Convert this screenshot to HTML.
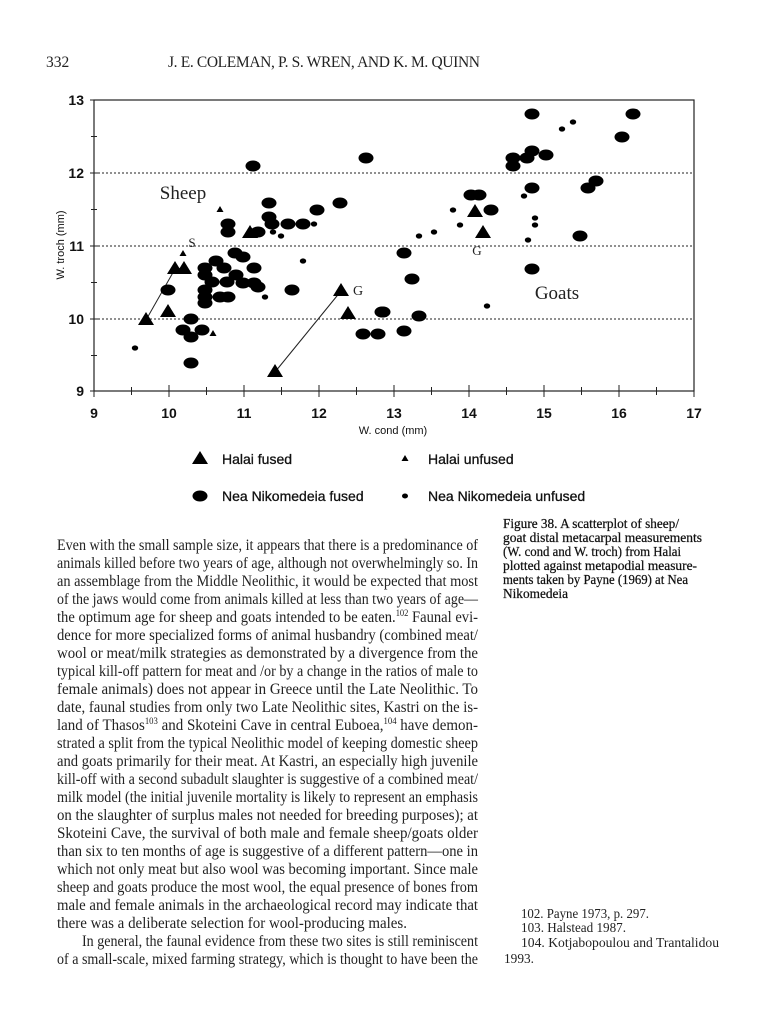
<!DOCTYPE html>
<html><head><meta charset="utf-8"><style>
html,body{margin:0;padding:0;background:#fff;}
svg{display:block}
.b{font-family:"Liberation Serif",serif;font-size:15.5px;fill:#222}
.c{font-family:"Liberation Serif",serif;font-size:14px;fill:#111;stroke:#111;stroke-width:0.25}
.f{font-family:"Liberation Serif",serif;font-size:14px;fill:#222}
.a{font-family:"Liberation Sans",sans-serif;font-weight:bold;fill:#111}
</style></head><body>
<svg width="760" height="1024" viewBox="0 0 760 1024" xmlns="http://www.w3.org/2000/svg">
<rect width="760" height="1024" fill="#fff"/>
<!-- header -->
<text x="46" y="67" class="b" font-size="13">332</text>
<text x="168" y="67" class="b" font-size="12.5" textLength="312" lengthAdjust="spacing">J. E. COLEMAN, P. S. WREN, AND K. M. QUINN</text>

<!-- chart frame -->
<g stroke="#222" fill="none">
<rect x="94" y="100" width="600" height="291" stroke-width="1.2"/>
<g stroke-dasharray="2,2" stroke-width="1">
<line x1="94" y1="173" x2="694" y2="173"/>
<line x1="94" y1="246" x2="694" y2="246"/>
<line x1="94" y1="319" x2="694" y2="319"/>
</g>
<g stroke-width="1">
<!-- y ticks -->
<line x1="90" y1="100" x2="98" y2="100"/><line x1="91" y1="136.5" x2="97" y2="136.5"/>
<line x1="90" y1="173" x2="98" y2="173"/><line x1="91" y1="209.5" x2="97" y2="209.5"/>
<line x1="90" y1="246" x2="98" y2="246"/><line x1="91" y1="282.5" x2="97" y2="282.5"/>
<line x1="90" y1="319" x2="98" y2="319"/><line x1="91" y1="355.5" x2="97" y2="355.5"/>
<line x1="90" y1="391" x2="98" y2="391"/>
<!-- x ticks -->
<line x1="94" y1="385" x2="94" y2="397"/><line x1="131.5" y1="387" x2="131.5" y2="395"/>
<line x1="169" y1="385" x2="169" y2="397"/><line x1="206.5" y1="387" x2="206.5" y2="395"/>
<line x1="244" y1="385" x2="244" y2="397"/><line x1="281.5" y1="387" x2="281.5" y2="395"/>
<line x1="319" y1="385" x2="319" y2="397"/><line x1="356.5" y1="387" x2="356.5" y2="395"/>
<line x1="394" y1="385" x2="394" y2="397"/><line x1="431.5" y1="387" x2="431.5" y2="395"/>
<line x1="469" y1="385" x2="469" y2="397"/><line x1="506.5" y1="387" x2="506.5" y2="395"/>
<line x1="544" y1="385" x2="544" y2="397"/><line x1="581.5" y1="387" x2="581.5" y2="395"/>
<line x1="619" y1="385" x2="619" y2="397"/><line x1="656.5" y1="387" x2="656.5" y2="395"/>
<line x1="694" y1="385" x2="694" y2="397"/>
</g>
<!-- connector lines -->
<line x1="146" y1="320" x2="175" y2="269" stroke-width="1"/>
<line x1="275" y1="372" x2="341" y2="291" stroke-width="1"/>
</g>
<!-- axis labels -->
<g class="a" font-size="14" text-anchor="end">
<text x="84" y="105">13</text><text x="84" y="178">12</text><text x="84" y="251">11</text>
<text x="84" y="324">10</text><text x="84" y="396">9</text>
</g>
<g class="a" font-size="14" text-anchor="middle">
<text x="94" y="418">9</text><text x="169" y="418">10</text><text x="244" y="418">11</text>
<text x="319" y="418">12</text><text x="394" y="418">13</text><text x="469" y="418">14</text>
<text x="544" y="418">15</text><text x="619" y="418">16</text><text x="694" y="418">17</text>
</g>
<text x="393" y="434" class="a" font-size="11" font-weight="normal" text-anchor="middle" style="font-weight:normal">W. cond (mm)</text>
<text transform="translate(64,245) rotate(-90)" class="a" font-size="11" text-anchor="middle" style="font-weight:normal">W. troch (mm)</text>

<!-- in-chart labels -->
<g class="b" fill="#111">
<text x="183" y="199" font-size="19" text-anchor="middle">Sheep</text>
<text x="192" y="247" font-size="13" text-anchor="middle">S</text>
<text x="358" y="295" font-size="14" text-anchor="middle">G</text>
<text x="477" y="255" font-size="13" text-anchor="middle">G</text>
<text x="557" y="299" font-size="19" text-anchor="middle">Goats</text>
</g>

<!-- big dots -->
<g fill="#000">
<ellipse cx="253" cy="166" rx="7.5" ry="5.5"/><ellipse cx="366" cy="158" rx="7.5" ry="5.5"/>
<ellipse cx="269" cy="203" rx="7.5" ry="5.5"/><ellipse cx="340" cy="203" rx="7.5" ry="5.5"/>
<ellipse cx="317" cy="210" rx="7.5" ry="5.5"/><ellipse cx="269" cy="217" rx="7.5" ry="5.5"/>
<ellipse cx="272" cy="224" rx="7.5" ry="5.5"/><ellipse cx="288" cy="224" rx="7.5" ry="5.5"/>
<ellipse cx="303" cy="224" rx="7.5" ry="5.5"/><ellipse cx="228" cy="224" rx="7.5" ry="5.5"/>
<ellipse cx="228" cy="232" rx="7.5" ry="5.5"/><ellipse cx="258" cy="232" rx="7.5" ry="5.5"/>
<ellipse cx="216" cy="261" rx="7.5" ry="5.5"/><ellipse cx="235" cy="253" rx="7.5" ry="5.5"/>
<ellipse cx="243" cy="257" rx="7.5" ry="5.5"/><ellipse cx="224" cy="268" rx="7.5" ry="5.5"/>
<ellipse cx="254" cy="268" rx="7.5" ry="5.5"/><ellipse cx="205" cy="268" rx="7.5" ry="5.5"/>
<ellipse cx="205" cy="275" rx="7.5" ry="5.5"/><ellipse cx="212" cy="282" rx="7.5" ry="5.5"/>
<ellipse cx="227" cy="282" rx="7.5" ry="5.5"/><ellipse cx="236" cy="275" rx="7.5" ry="5.5"/>
<ellipse cx="243" cy="283" rx="7.5" ry="5.5"/><ellipse cx="254" cy="283" rx="7.5" ry="5.5"/>
<ellipse cx="258" cy="287" rx="7.5" ry="5.5"/><ellipse cx="205" cy="290" rx="7.5" ry="5.5"/>
<ellipse cx="205" cy="297" rx="7.5" ry="5.5"/><ellipse cx="205" cy="303" rx="7.5" ry="5.5"/>
<ellipse cx="220" cy="297" rx="7.5" ry="5.5"/><ellipse cx="228" cy="297" rx="7.5" ry="5.5"/>
<ellipse cx="292" cy="290" rx="7.5" ry="5.5"/><ellipse cx="168" cy="290" rx="7.5" ry="5.5"/>
<ellipse cx="191" cy="319" rx="7.5" ry="5.5"/><ellipse cx="183" cy="330" rx="7.5" ry="5.5"/>
<ellipse cx="202" cy="330" rx="7.5" ry="5.5"/><ellipse cx="191" cy="337" rx="7.5" ry="5.5"/>
<ellipse cx="191" cy="363" rx="7.5" ry="5.5"/><ellipse cx="382" cy="312" rx="7.5" ry="5.5"/>
<ellipse cx="363" cy="334" rx="7.5" ry="5.5"/><ellipse cx="378" cy="334" rx="7.5" ry="5.5"/>
<ellipse cx="404" cy="253" rx="7.5" ry="5.5"/><ellipse cx="404" cy="331" rx="7.5" ry="5.5"/>
<ellipse cx="532" cy="114" rx="7.5" ry="5.5"/><ellipse cx="633" cy="114" rx="7.5" ry="5.5"/>
<ellipse cx="622" cy="137" rx="7.5" ry="5.5"/><ellipse cx="532" cy="151" rx="7.5" ry="5.5"/>
<ellipse cx="527" cy="158" rx="7.5" ry="5.5"/><ellipse cx="513" cy="158" rx="7.5" ry="5.5"/>
<ellipse cx="513" cy="166" rx="7.5" ry="5.5"/><ellipse cx="546" cy="155" rx="7.5" ry="5.5"/>
<ellipse cx="532" cy="188" rx="7.5" ry="5.5"/><ellipse cx="588" cy="188" rx="7.5" ry="5.5"/>
<ellipse cx="596" cy="181" rx="7.5" ry="5.5"/><ellipse cx="471" cy="195" rx="7.5" ry="5.5"/>
<ellipse cx="479" cy="195" rx="7.5" ry="5.5"/><ellipse cx="491" cy="210" rx="7.5" ry="5.5"/>
<ellipse cx="580" cy="236" rx="7.5" ry="5.5"/><ellipse cx="412" cy="279" rx="7.5" ry="5.5"/>
<ellipse cx="383" cy="312" rx="7.5" ry="5.5"/><ellipse cx="419" cy="316" rx="7.5" ry="5.5"/>
<ellipse cx="532" cy="269" rx="7.5" ry="5.5"/>
</g>
<!-- small dots -->
<g fill="#000">
<ellipse cx="135" cy="348" rx="3.2" ry="2.6"/><ellipse cx="265" cy="297" rx="3.2" ry="2.6"/>
<ellipse cx="303" cy="261" rx="3.2" ry="2.6"/><ellipse cx="273" cy="232" rx="3.2" ry="2.6"/>
<ellipse cx="281" cy="236" rx="3.2" ry="2.6"/><ellipse cx="314" cy="224" rx="3.2" ry="2.6"/>
<ellipse cx="562" cy="129" rx="3.2" ry="2.6"/><ellipse cx="573" cy="122" rx="3.2" ry="2.6"/>
<ellipse cx="524" cy="196" rx="3.2" ry="2.6"/><ellipse cx="453" cy="210" rx="3.2" ry="2.6"/>
<ellipse cx="460" cy="225" rx="3.2" ry="2.6"/><ellipse cx="419" cy="236" rx="3.2" ry="2.6"/>
<ellipse cx="434" cy="232" rx="3.2" ry="2.6"/><ellipse cx="535" cy="218" rx="3.2" ry="2.6"/>
<ellipse cx="535" cy="225" rx="3.2" ry="2.6"/><ellipse cx="528" cy="240" rx="3.2" ry="2.6"/>
<ellipse cx="487" cy="306" rx="3.2" ry="2.6"/>
</g>
<!-- big triangles -->
<g fill="#000">
<polygon points="146,312 138,325 154,325"/><polygon points="175,261 167,274 183,274"/>
<polygon points="184,261 176,274 192,274"/><polygon points="168,304 160,317 176,317"/>
<polygon points="250,225 242,238 258,238"/><polygon points="341,283 333,296 349,296"/>
<polygon points="348,306 340,319 356,319"/><polygon points="275,364 267,377 283,377"/>
<polygon points="475,204 467,217 483,217"/><polygon points="483,225 475,238 491,238"/>
<!-- small triangles -->
<polygon points="220,206 216.5,212 223.5,212"/><polygon points="183,250 179.5,256 186.5,256"/>
<polygon points="213,330 209.5,336 216.5,336"/>
</g>

<!-- legend -->
<polygon points="200,451 192,464 208,464" fill="#000"/>
<text x="222" y="464" class="a" font-size="14" style="font-weight:normal;stroke:#111;stroke-width:0.3">Halai fused</text>
<polygon points="405,455 401.5,461 408.5,461" fill="#000"/>
<text x="428" y="464" class="a" font-size="14" style="font-weight:normal;stroke:#111;stroke-width:0.3">Halai unfused</text>
<ellipse cx="200" cy="496" rx="7.5" ry="5.5" fill="#000"/>
<text x="222" y="501" class="a" font-size="14" style="font-weight:normal;stroke:#111;stroke-width:0.3">Nea Nikomedeia fused</text>
<ellipse cx="405" cy="496" rx="3" ry="2.5" fill="#000"/>
<text x="428" y="501" class="a" font-size="14" style="font-weight:normal;stroke:#111;stroke-width:0.3">Nea Nikomedeia unfused</text>

<!-- caption -->
<g class="c">
<text x="503" y="528" textLength="176" lengthAdjust="spacingAndGlyphs">Figure 38. A scatterplot of sheep/</text>
<text x="503" y="542" textLength="199" lengthAdjust="spacingAndGlyphs">goat distal metacarpal measurements</text>
<text x="503" y="556" textLength="178" lengthAdjust="spacingAndGlyphs">(W. cond and W. troch) from Halai</text>
<text x="503" y="570" textLength="194" lengthAdjust="spacingAndGlyphs">plotted against metapodial measure-</text>
<text x="503" y="584" textLength="185" lengthAdjust="spacingAndGlyphs">ments taken by Payne (1969) at Nea</text>
<text x="503" y="598" textLength="65" lengthAdjust="spacingAndGlyphs">Nikomedeia</text>
</g>

<!-- body -->
<g class="b">
<text x="57" y="550" textLength="421" lengthAdjust="spacingAndGlyphs">Even with the small sample size, it appears that there is a predominance of</text>
<text x="57" y="568" textLength="421" lengthAdjust="spacingAndGlyphs">animals killed before two years of age, although not overwhelmingly so. In</text>
<text x="57" y="586" textLength="421" lengthAdjust="spacingAndGlyphs">an assemblage from the Middle Neolithic, it would be expected that most</text>
<text x="57" y="604" textLength="421" lengthAdjust="spacingAndGlyphs">of the jaws would come from animals killed at less than two years of age—</text>
<text x="57" y="622" textLength="421" lengthAdjust="spacingAndGlyphs">the optimum age for sheep and goats intended to be eaten.<tspan font-size="9" dy="-6">102</tspan><tspan dy="6"> Faunal evi-</tspan></text>
<text x="57" y="640" textLength="421" lengthAdjust="spacingAndGlyphs">dence for more specialized forms of animal husbandry (combined meat/</text>
<text x="57" y="658" textLength="421" lengthAdjust="spacingAndGlyphs">wool or meat/milk strategies as demonstrated by a divergence from the</text>
<text x="57" y="676" textLength="421" lengthAdjust="spacingAndGlyphs">typical kill-off pattern for meat and /or by a change in the ratios of male to</text>
<text x="57" y="694" textLength="421" lengthAdjust="spacingAndGlyphs">female animals) does not appear in Greece until the Late Neolithic. To</text>
<text x="57" y="712" textLength="421" lengthAdjust="spacingAndGlyphs">date, faunal studies from only two Late Neolithic sites, Kastri on the is-</text>
<text x="57" y="730" textLength="421" lengthAdjust="spacingAndGlyphs">land of Thasos<tspan font-size="9" dy="-6">103</tspan><tspan dy="6"> and Skoteini Cave in central Euboea,</tspan><tspan font-size="9" dy="-6">104</tspan><tspan dy="6"> have demon-</tspan></text>
<text x="57" y="748" textLength="421" lengthAdjust="spacingAndGlyphs">strated a split from the typical Neolithic model of keeping domestic sheep</text>
<text x="57" y="766" textLength="421" lengthAdjust="spacingAndGlyphs">and goats primarily for their meat. At Kastri, an especially high juvenile</text>
<text x="57" y="784" textLength="421" lengthAdjust="spacingAndGlyphs">kill-off with a second subadult slaughter is suggestive of a combined meat/</text>
<text x="57" y="802" textLength="421" lengthAdjust="spacingAndGlyphs">milk model (the initial juvenile mortality is likely to represent an emphasis</text>
<text x="57" y="820" textLength="421" lengthAdjust="spacingAndGlyphs">on the slaughter of surplus males not needed for breeding purposes); at</text>
<text x="57" y="838" textLength="421" lengthAdjust="spacingAndGlyphs">Skoteini Cave, the survival of both male and female sheep/goats older</text>
<text x="57" y="856" textLength="421" lengthAdjust="spacingAndGlyphs">than six to ten months of age is suggestive of a different pattern—one in</text>
<text x="57" y="874" textLength="421" lengthAdjust="spacingAndGlyphs">which not only meat but also wool was becoming important. Since male</text>
<text x="57" y="892" textLength="421" lengthAdjust="spacingAndGlyphs">sheep and goats produce the most wool, the equal presence of bones from</text>
<text x="57" y="910" textLength="421" lengthAdjust="spacingAndGlyphs">male and female animals in the archaeological record may indicate that</text>
<text x="57" y="928" textLength="350" lengthAdjust="spacingAndGlyphs">there was a deliberate selection for wool-producing males.</text>
<text x="82" y="946" textLength="396" lengthAdjust="spacingAndGlyphs">In general, the faunal evidence from these two sites is still reminiscent</text>
<text x="57" y="964" textLength="421" lengthAdjust="spacingAndGlyphs">of a small-scale, mixed farming strategy, which is thought to have been the</text>
</g>

<!-- footnotes -->
<g class="f">
<text x="521" y="918" textLength="128" lengthAdjust="spacingAndGlyphs">102. Payne 1973, p. 297.</text>
<text x="521" y="932" textLength="105" lengthAdjust="spacingAndGlyphs">103. Halstead 1987.</text>
<text x="521" y="947" textLength="198" lengthAdjust="spacingAndGlyphs">104. Kotjabopoulou and Trantalidou</text>
<text x="504" y="963" textLength="30" lengthAdjust="spacingAndGlyphs">1993.</text>
</g>
</svg>
</body></html>
